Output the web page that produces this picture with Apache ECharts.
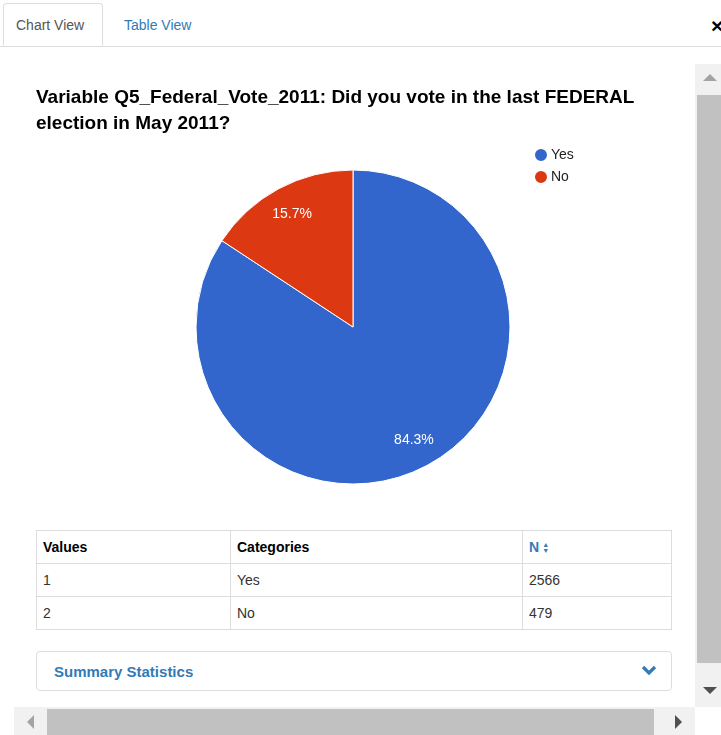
<!DOCTYPE html>
<html>
<head>
<meta charset="utf-8">
<script src="https://cdn.jsdelivr.net/npm/echarts@6/dist/echarts.min.js"></script>
<style>
  body { margin: 0; width: 721px; height: 735px; overflow: hidden; background: #fff;
         font-family: "Liberation Sans", Arial, sans-serif; position: relative; }
  .tabline { position: absolute; left: 0; top: 46px; width: 721px; height: 1px; background: #ddd; }
  .tab-active { position: absolute; left: 3px; top: 3px; width: 100px; height: 43px;
                border: 1px solid #ddd; border-bottom: 1px solid #fff; border-radius: 4px 4px 0 0;
                background: #fff; box-sizing: border-box; z-index: 2; }
  .tab-active span { position: absolute; left: 12px; top: 13px; font-size: 14px; color: #555; }
  .tab2 { position: absolute; left: 124px; top: 17px; font-size: 14px; color: #337ab7; }
  .close { position: absolute; left: 711px; top: 14px; font-size: 21px; font-weight: bold; color: #000; }
  #chart { position: absolute; left: 0; top: 64px; width: 695px; height: 460px; }
  table { position: absolute; left: 36px; top: 530px; width: 636px; border-collapse: collapse;
          font-size: 14px; color: #333; }
  td, th { border: 1px solid #ddd; height: 33px; padding: 0 6px; text-align: left; box-sizing: border-box; }
  th { font-weight: bold; color: #000; }
  th.n { color: #337ab7; }
  .sort { display: inline-block; vertical-align: middle; font-size: 7px; line-height: 6px; color: #337ab7; margin-left: 3px; }
  .panel { position: absolute; left: 36px; top: 651px; width: 636px; height: 40px; box-sizing: border-box;
           border: 1px solid #ddd; border-radius: 4px; }
  .panel span { position: absolute; left: 17px; top: 11px; font-size: 15px; font-weight: bold; color: #337ab7; }
  .chev { position: absolute; left: 604px; top: 12px; }
  .vbar { position: absolute; left: 695px; top: 64px; width: 26px; height: 643px; background: #f1f1f1; }
  .vthumb { position: absolute; left: 697px; top: 95px; width: 24px; height: 568px; background: #c1c1c1; }
  .hbar { position: absolute; left: 14px; top: 707px; width: 681px; height: 28px; background: #f1f1f1; }
  .hthumb { position: absolute; left: 47px; top: 709px; width: 607px; height: 26px; background: #c1c1c1; }
  .tri { position: absolute; width: 0; height: 0; }
</style>
</head>
<body>
<div class="tabline"></div>
<div class="tab-active"><span>Chart View</span></div>
<div class="tab2">Table View</div>
<div class="close">×</div>

<div id="chart"></div>

<table>
  <tr><th style="width:194px">Values</th><th style="width:292px">Categories</th>
      <th class="n">N<span class="sort">▲<br>▼</span></th></tr>
  <tr><td>1</td><td>Yes</td><td>2566</td></tr>
  <tr><td>2</td><td>No</td><td>479</td></tr>
</table>

<div class="panel"><span>Summary Statistics</span>
  <svg class="chev" width="16" height="12" viewBox="0 0 16 12"><path d="M2 3 L8 9 L14 3" stroke="#337ab7" stroke-width="3.2" fill="none"/></svg>
</div>

<div class="vbar"></div><div class="vthumb"></div>
<div class="tri" style="left:703px;top:74px;border-left:7px solid transparent;border-right:7px solid transparent;border-bottom:7px solid #a3a3a3"></div>
<div class="tri" style="left:703px;top:687px;border-left:7px solid transparent;border-right:7px solid transparent;border-top:7px solid #505050"></div>
<div class="hbar"></div><div class="hthumb"></div>
<div class="tri" style="left:27px;top:715px;border-top:7px solid transparent;border-bottom:7px solid transparent;border-right:7px solid #a3a3a3"></div>
<div class="tri" style="left:675px;top:715px;border-top:7px solid transparent;border-bottom:7px solid transparent;border-left:7px solid #505050"></div>

<script>
  // 数据
  var categories = ["Yes", "No"];
  var counts = [2566, 479];
  var colors = ["#3366cc", "#dc3912"];

  var pieData = categories.map(function (c, i) {
    return { name: c, value: counts[i], itemStyle: { color: colors[i] } };
  });

  var myChart = echarts.init(document.getElementById("chart"));
  myChart.setOption({
    animation: false,
    title: {
      text: "Variable Q5_Federal_Vote_2011: Did you vote in the last FEDERAL\nelection in May 2011?",
      left: 31,
      top: 16,
      textStyle: { fontFamily: "Liberation Sans, Arial", fontSize: 19, fontWeight: "bold", color: "#000", lineHeight: 26 }
    },
    legend: {
      orient: "vertical",
      left: 528,
      top: 78,
      icon: "circle",
      itemWidth: 14,
      itemHeight: 14,
      itemGap: 6,
      data: categories,
      textStyle: { fontFamily: "Liberation Sans, Arial", fontSize: 14, color: "#222", padding: [0, 0, 0, -2] }
    },
    series: [
      {
        // 饼图本体
        type: "pie",
        center: [353, 263],
        radius: 157,
        startAngle: 90,
        data: pieData,
        label: { show: false },
        labelLine: { show: false },
        itemStyle: { borderColor: "#fff", borderWidth: 1 },
        silent: true
      },
      {
        // 只用来放百分比文本
        type: "pie",
        center: [353, 263],
        radius: [94, 157],
        startAngle: 90,
        percentPrecision: 1,
        data: pieData.map(function (d) { return { name: d.name, value: d.value, itemStyle: { color: "transparent" } }; }),
        label: {
          show: true, position: "inside", formatter: "{d}%",
          color: "#fff", fontSize: 14, fontFamily: "Liberation Sans, Arial"
        },
        labelLine: { show: false },
        silent: true
      }
    ]
  });
</script>
</body>
</html>
